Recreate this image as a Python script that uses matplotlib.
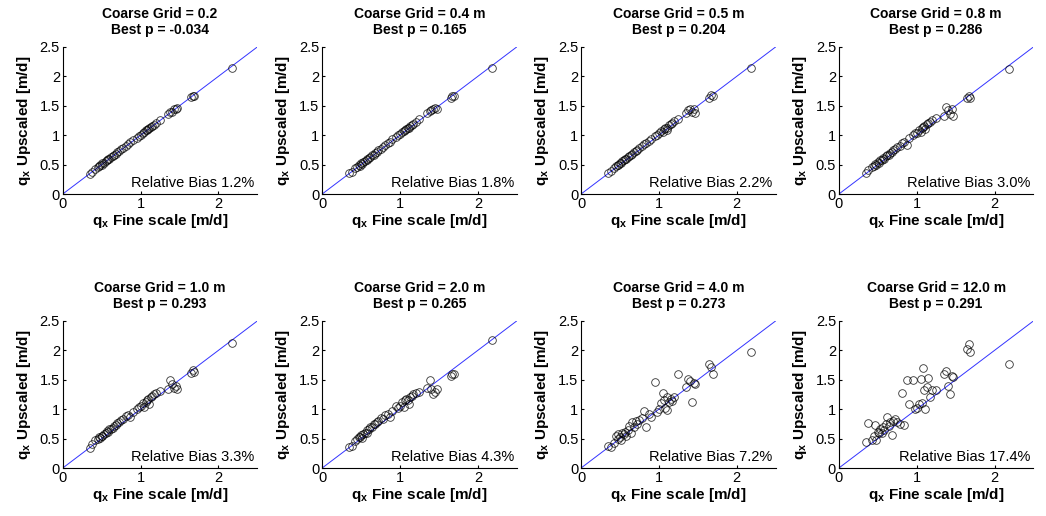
import matplotlib
matplotlib.use('Agg')
import matplotlib.pyplot as plt

plt.rcParams['font.family'] = ['Liberation Sans', 'DejaVu Sans']
plt.rcParams['mathtext.fontset'] = 'custom'
plt.rcParams['mathtext.bf'] = 'Liberation Sans:bold'
plt.rcParams['mathtext.rm'] = 'Liberation Sans:bold'
plt.rcParams['mathtext.default'] = 'bf'

grids = ['0.2', '0.4 m', '0.5 m', '0.8 m', '1.0 m', '2.0 m', '4.0 m', '12.0 m']
best_p = ['-0.034', '0.165', '0.204', '0.286', '0.293', '0.265', '0.273', '0.291']
bias = ['1.2%', '1.8%', '2.2%', '3.0%', '3.3%', '4.3%', '7.2%', '17.4%']

# fine scale qx (same cells for every panel)
q_fine = [0.35, 0.38, 0.42, 0.45, 0.47, 0.48, 0.50, 0.51, 0.53, 0.55,
          0.57, 0.58, 0.60, 0.62, 0.64, 0.66, 0.68, 0.70, 0.72, 0.75,
          0.78, 0.81, 0.84, 0.87, 0.90, 0.95, 0.98, 1.00, 1.03, 1.05,
          1.07, 1.08, 1.10, 1.11, 1.13, 1.15, 1.17, 1.20, 1.25, 1.35,
          1.38, 1.40, 1.43, 1.45, 1.47, 1.65, 1.67, 1.69, 2.18]

# upscaled qx per coarse grid
q_up_02 = [0.34, 0.38, 0.43, 0.46, 0.47, 0.49, 0.50, 0.52, 0.53, 0.56,
           0.57, 0.59, 0.60, 0.63, 0.64, 0.67, 0.68, 0.71, 0.73, 0.76,
           0.79, 0.82, 0.85, 0.88, 0.91, 0.96, 0.99, 1.01, 1.04, 1.06,
           1.08, 1.09, 1.11, 1.12, 1.14, 1.16, 1.18, 1.21, 1.26, 1.36,
           1.39, 1.40, 1.44, 1.45, 1.47, 1.65, 1.66, 1.67, 2.15]
q_up_04 = [0.35, 0.37, 0.44, 0.46, 0.49, 0.48, 0.52, 0.51, 0.55, 0.56,
           0.59, 0.58, 0.62, 0.63, 0.66, 0.66, 0.70, 0.71, 0.74, 0.77,
           0.80, 0.84, 0.86, 0.89, 0.93, 0.97, 1.00, 1.02, 1.06, 1.07,
           1.09, 1.10, 1.12, 1.13, 1.15, 1.17, 1.19, 1.23, 1.27, 1.37,
           1.41, 1.42, 1.45, 1.46, 1.44, 1.64, 1.67, 1.66, 2.14]
q_up_05 = [0.36, 0.39, 0.45, 0.47, 0.50, 0.49, 0.53, 0.52, 0.56, 0.57,
           0.60, 0.59, 0.63, 0.64, 0.66, 0.68, 0.71, 0.73, 0.75, 0.78,
           0.81, 0.85, 0.87, 0.90, 0.94, 0.98, 1.01, 1.03, 1.07, 1.05,
           1.10, 1.12, 1.13, 1.09, 1.17, 1.19, 1.21, 1.24, 1.28, 1.38,
           1.43, 1.44, 1.40, 1.45, 1.38, 1.63, 1.68, 1.66, 2.14]
q_up_08 = [0.35, 0.40, 0.46, 0.48, 0.51, 0.50, 0.54, 0.53, 0.57, 0.58,
           0.61, 0.60, 0.64, 0.66, 0.67, 0.69, 0.72, 0.74, 0.76, 0.80,
           0.82, 0.86, 0.88, 0.84, 0.95, 1.00, 1.03, 1.04, 1.08, 1.06,
           1.12, 1.14, 1.15, 1.10, 1.19, 1.21, 1.23, 1.26, 1.30, 1.33,
           1.48, 1.42, 1.36, 1.45, 1.33, 1.63, 1.66, 1.64, 2.12]
q_up_10 = [0.34, 0.41, 0.47, 0.49, 0.52, 0.51, 0.55, 0.54, 0.58, 0.59,
           0.63, 0.61, 0.66, 0.67, 0.68, 0.71, 0.73, 0.76, 0.78, 0.82,
           0.84, 0.88, 0.90, 0.86, 0.96, 1.01, 1.04, 1.06, 1.10, 1.04,
           1.13, 1.16, 1.17, 1.09, 1.20, 1.23, 1.25, 1.28, 1.31, 1.35,
           1.50, 1.43, 1.36, 1.40, 1.34, 1.62, 1.66, 1.64, 2.12]
q_up_20 = [0.35, 0.38, 0.46, 0.50, 0.52, 0.53, 0.56, 0.51, 0.58, 0.60,
           0.64, 0.59, 0.67, 0.70, 0.69, 0.75, 0.74, 0.78, 0.80, 0.85,
           0.83, 0.90, 0.91, 0.87, 0.97, 1.06, 1.02, 1.05, 1.12, 1.03,
           1.15, 1.18, 1.16, 1.08, 1.21, 1.23, 1.25, 1.27, 1.30, 1.36,
           1.50, 1.34, 1.25, 1.30, 1.35, 1.57, 1.60, 1.59, 2.18]
q_up_40 = [0.38, 0.36, 0.42, 0.55, 0.50, 0.57, 0.52, 0.48, 0.60, 0.57,
           0.62, 0.55, 0.65, 0.72, 0.60, 0.78, 0.70, 0.80, 0.74, 0.82,
           0.85, 0.97, 0.70, 0.92, 0.86, 1.46, 0.95, 1.00, 1.10, 1.28,
           1.15, 1.02, 1.20, 0.98, 1.12, 1.18, 1.14, 1.20, 1.60, 1.38,
           1.52, 1.48, 1.12, 1.44, 1.42, 1.76, 1.71, 1.60, 1.98]
q_up_120 = [0.45, 0.76, 0.48, 0.55, 0.73, 0.47, 0.62, 0.59, 0.66, 0.60,
            0.70, 0.64, 0.75, 0.87, 0.72, 0.79, 0.56, 0.80, 0.84, 0.78,
            0.74, 1.28, 0.73, 1.50, 1.08, 1.50, 1.00, 1.02, 1.08, 1.52,
            1.10, 1.70, 1.32, 1.00, 1.38, 1.53, 1.20, 1.32, 1.32, 1.60,
            1.65, 1.40, 1.26, 1.57, 1.54, 2.02, 2.10, 1.97, 1.77]

q_up = [q_up_02, q_up_04, q_up_05, q_up_08, q_up_10, q_up_20, q_up_40, q_up_120]

fig = plt.figure(figsize=(10.46, 5.16), dpi=100)
lefts = [0.060, 0.308, 0.5555, 0.802]
bottoms = [0.624, 0.093]

for i in range(8):
    ax = fig.add_axes([lefts[i % 4], bottoms[i // 4], 0.186, 0.285])
    ax.plot([0, 2.5], [0, 2.5], color='#3333ff', lw=0.7)
    ax.plot(q_fine, q_up[i], 'o', mfc='none', mec='k', ms=5.5, mew=0.6, alpha=0.8)
    ax.set_xlim(0, 2.5)
    ax.set_ylim(0, 2.5)
    ax.set_xticks([0, 1, 2])
    ax.set_xticklabels(['0', '1', '2'])
    ax.set_yticks([0, 0.5, 1, 1.5, 2, 2.5])
    ax.set_yticklabels(['0', '0.5', '1', '1.5', '2', '2.5'])
    ax.tick_params(direction='in', length=2, labelsize=10.5, pad=2)
    ax.spines['top'].set_visible(False)
    ax.spines['right'].set_visible(False)
    ax.set_title('Coarse Grid = %s\nBest p = %s' % (grids[i], best_p[i]),
                 fontsize=10, fontweight='bold', pad=9, linespacing=1.2)
    ax.set_xlabel(r'q$_{x}$ Fine scale [m/d]', fontsize=11, fontweight='bold', labelpad=1)
    ax.set_ylabel(r'q$_{x}$ Upscaled [m/d]', fontsize=11, fontweight='bold', labelpad=5)
    ax.text(0.985, 0.03, 'Relative Bias ' + bias[i], transform=ax.transAxes,
            ha='right', va='bottom', fontsize=10.5)

fig.savefig('out.png', dpi=100)
